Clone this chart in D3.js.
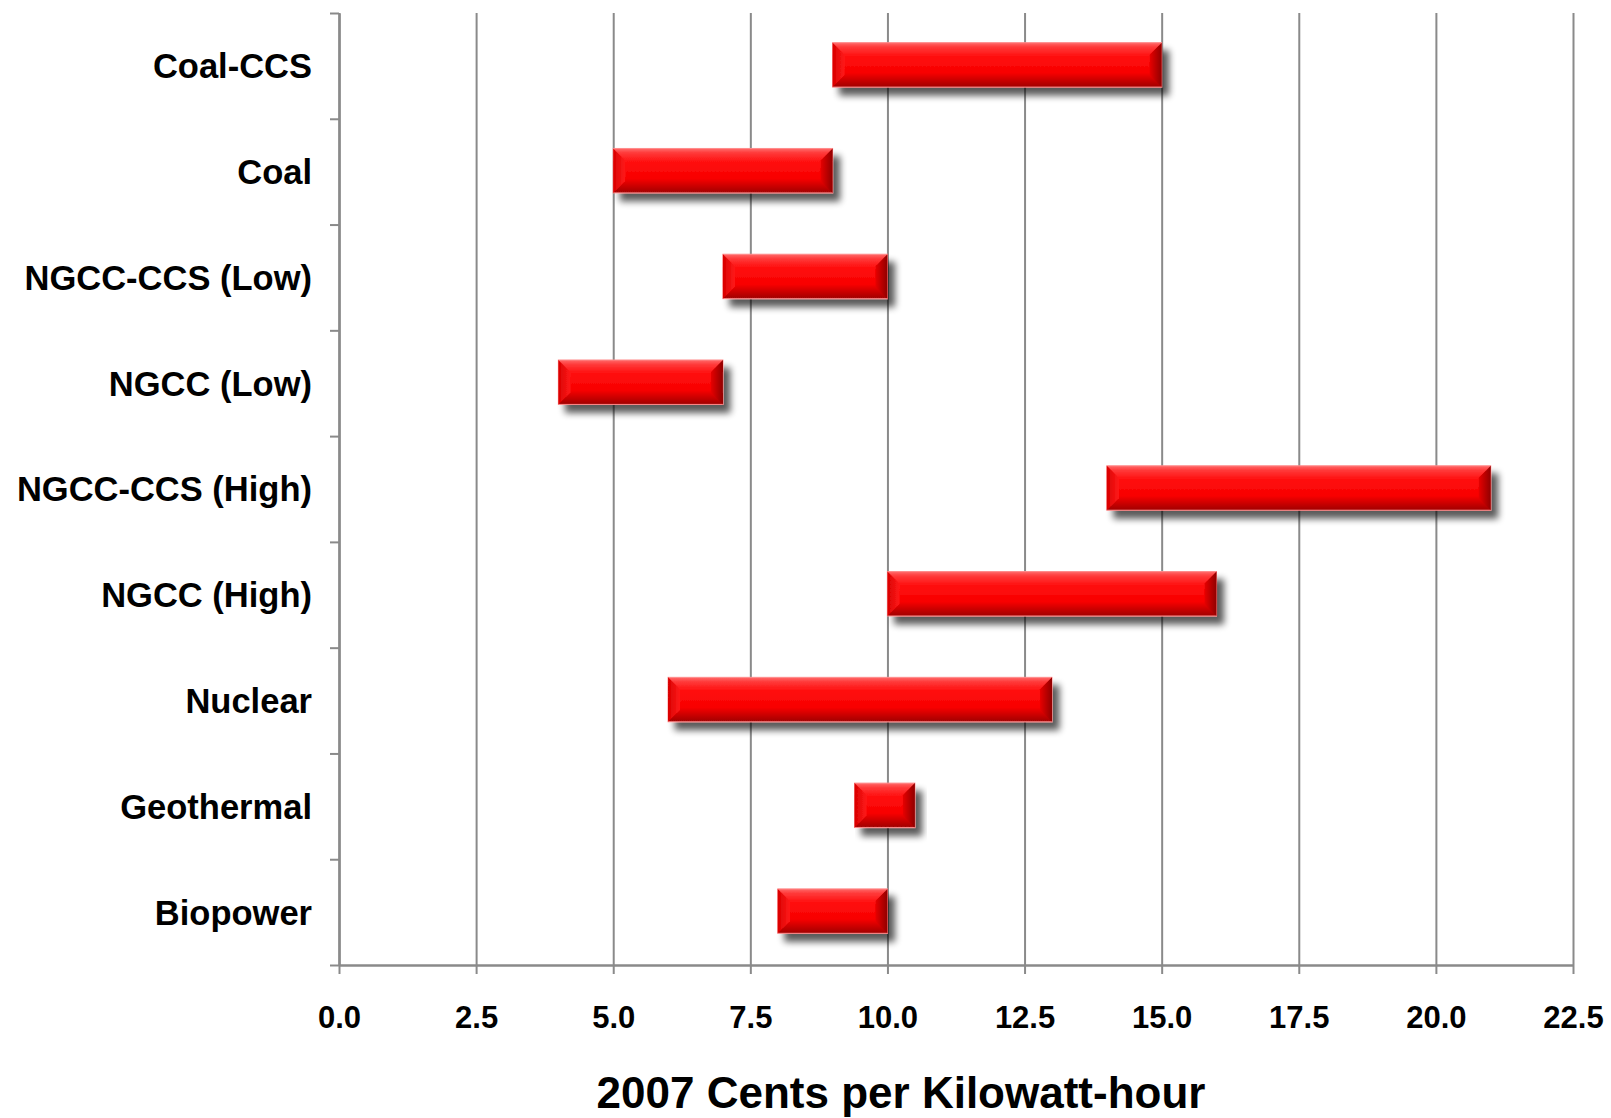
<!DOCTYPE html>
<html>
<head>
<meta charset="utf-8">
<script src="https://cdn.jsdelivr.net/npm/d3@7/dist/d3.min.js"></script>
<style>
  body { margin: 0; background: #fff; }
  svg text { font-family: "Liberation Sans", Arial, sans-serif; font-weight: bold; fill: #000; }
</style>
</head>
<body>
<div id="chart"></div>
<script>
// Data (2007 cents per kWh, low/high of each range)
const categories = ['Coal-CCS', 'Coal', 'NGCC-CCS (Low)', 'NGCC (Low)', 'NGCC-CCS (High)',
  'NGCC (High)', 'Nuclear', 'Geothermal', 'Biopower'];
const lowValues = [9, 5, 7, 4, 14, 10, 6, 9.4, 8];
const highValues = [15, 9, 10, 7, 21, 16, 13, 10.5, 10];
const tickValues = [0, 2.5, 5, 7.5, 10, 12.5, 15, 17.5, 20, 22.5];
const axisTitle = '2007 Cents per Kilowatt-hour';

const data = categories.map((c, i) => ({ name: c, low: lowValues[i], high: highValues[i] }));

const W = 1611, H = 1118;
const margin = { top: 13, right: 38, bottom: 153, left: 339 };
const width = W - margin.left - margin.right;
const height = H - margin.top - margin.bottom;

const svg = d3.select('#chart').append('svg')
  .attr('width', W)
  .attr('height', H);

// gradients + shadow for the bevelled bars
const defs = svg.append('defs');
const grad = defs.append('linearGradient')
  .attr('id', 'barGrad').attr('x1', 0).attr('y1', 0).attr('x2', 0).attr('y2', 1);
[[0, '#ff6a6a'], [0.1, '#ff3a3a'], [0.3, '#ff1010'], [0.68, '#f80000'], [0.84, '#cc0000'], [1, '#a00808']]
  .forEach(([o, c]) => grad.append('stop').attr('offset', o).attr('stop-color', c));
const lGrad = defs.append('linearGradient')
  .attr('id', 'leftGrad').attr('x1', 0).attr('y1', 0).attr('x2', 1).attr('y2', 0);
lGrad.append('stop').attr('offset', 0).attr('stop-color', '#d80000');
lGrad.append('stop').attr('offset', 1).attr('stop-color', '#ff1a1a');
const rGrad = defs.append('linearGradient')
  .attr('id', 'rightGrad').attr('x1', 0).attr('y1', 0).attr('x2', 1).attr('y2', 0);
rGrad.append('stop').attr('offset', 0).attr('stop-color', '#e80000');
rGrad.append('stop').attr('offset', 1).attr('stop-color', '#900000');

const shadow = defs.append('filter').attr('id', 'shadow')
  .attr('x', '-10%').attr('y', '-30%').attr('width', '130%').attr('height', '180%');
shadow.append('feGaussianBlur').attr('in', 'SourceAlpha').attr('stdDeviation', 3.5);
shadow.append('feOffset').attr('dx', 7).attr('dy', 8).attr('result', 'off');
shadow.append('feComponentTransfer').append('feFuncA').attr('type', 'linear').attr('slope', 0.65);
const merge = shadow.append('feMerge');
merge.append('feMergeNode');
merge.append('feMergeNode').attr('in', 'SourceGraphic');

const g = svg.append('g').attr('transform', `translate(${margin.left},${margin.top})`);

// Scales
const x = d3.scaleLinear().domain([0, 22.5]).range([0, width]);
const y = d3.scaleBand().domain(categories).range([0, height]).paddingInner(0.58).paddingOuter(0.29);
const yIdx = d3.scaleLinear().domain([0, categories.length]).range([0, height]);

// vertical gridlines
g.append('g')
  .attr('class', 'grid')
  .call(d3.axisBottom(x).tickValues(tickValues).tickSize(height).tickFormat(''))
  .call(s => s.select('.domain').remove())
  .selectAll('line').attr('stroke', '#8a8a8a').attr('stroke-width', 2);

// x axis
const xAxis = g.append('g')
  .attr('transform', `translate(0,${height})`)
  .call(d3.axisBottom(x).tickValues(tickValues).tickSizeInner(9).tickSizeOuter(0)
    .tickFormat(d3.format('.1f')));
xAxis.select('.domain').attr('stroke', '#8a8a8a').attr('stroke-width', 2.5);
xAxis.selectAll('line').attr('stroke', '#8a8a8a').attr('stroke-width', 2);
xAxis.selectAll('text').style('font-size', '31px').attr('dy', '0.71em').attr('y', 41);

// y axis (ticks on category boundaries)
const yAxis = g.append('g')
  .call(d3.axisLeft(yIdx).tickValues(d3.range(categories.length + 1)).tickSizeInner(9)
    .tickSizeOuter(0).tickFormat(''));
yAxis.select('.domain').attr('stroke', '#8a8a8a').attr('stroke-width', 2.5);
yAxis.selectAll('line').attr('stroke', '#8a8a8a').attr('stroke-width', 2);

// category labels
const yLab = g.append('g')
  .call(d3.axisLeft(y).tickSize(0).tickPadding(27));
yLab.select('.domain').remove();
yLab.selectAll('text').style('font-size', '34.5px').attr('dy', '0.36em');

// bars
const bevel = 12;
const bars = g.selectAll('.bar')
  .data(data)
  .enter().append('g')
  .attr('class', 'bar')
  .attr('filter', 'url(#shadow)');

bars.append('rect')
  .attr('x', d => x(d.low))
  .attr('y', d => y(d.name) - 1)
  .attr('width', d => x(d.high) - x(d.low))
  .attr('height', y.bandwidth())
  .attr('fill', 'url(#barGrad)')
  .attr('stroke', '#ff8a8a')
  .attr('stroke-width', 1);

// left bevel
bars.append('path')
  .attr('fill', 'url(#leftGrad)')
  .attr('d', d => {
    const x0 = x(d.low), y0 = y(d.name) - 1, y1 = y0 + y.bandwidth();
    const b = Math.min(bevel, (x(d.high) - x0) / 3);
    return `M${x0},${y0}L${x0 + b},${y0 + b}L${x0 + b},${y1 - b}L${x0},${y1}Z`;
  });

// right bevel
bars.append('path')
  .attr('fill', 'url(#rightGrad)')
  .attr('d', d => {
    const x1 = x(d.high), y0 = y(d.name) - 1, y1 = y0 + y.bandwidth();
    const b = Math.min(bevel, (x1 - x(d.low)) / 3);
    return `M${x1},${y0}L${x1 - b},${y0 + b}L${x1 - b},${y1 - b}L${x1},${y1}Z`;
  });

// axis title
svg.append('text')
  .attr('x', 901)
  .attr('y', 1108)
  .attr('text-anchor', 'middle')
  .style('font-size', '44px')
  .text(axisTitle);
</script>
</body>
</html>
